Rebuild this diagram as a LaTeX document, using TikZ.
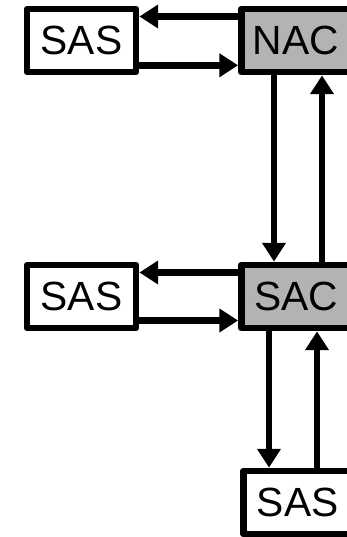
\documentclass[tikz,border=0pt]{standalone}
\usepackage{fontspec}
\setmainfont{Liberation Sans}
\usepackage{xcolor}
\usepackage{tikz}
\usetikzlibrary{
	arrows.meta,
	calc
}
\definecolor{BoxGray}{RGB}{179,179,179}

\begin{document}
\begin{tikzpicture}[x=0.025cm, y=-0.025cm,
		box/.style={draw, line width=4.8pt, line join=round, rectangle, inner sep=0pt,
			minimum width=2.725cm, minimum height=1.575cm, font=\fontsize{29}{33}\selectfont},
		link/.style={line width=4.8pt, -{Triangle[length=0.47cm, width=0.57cm]}}]
		\clip (0,0) rectangle (347,537);
		% obere Reihe
		\node[box] (sasA) at (81.5,40.5) {SAS};
		\node[box, fill=BoxGray] (nac) at (296,40.5) {NAC};
		\draw[link] ([yshift=0.6cm]nac.west) -- ([yshift=0.6cm]sasA.east);
		\draw[link] ([yshift=-0.62cm]sasA.east) -- ([yshift=-0.62cm]nac.west);
		% mittlere Reihe
		\node[box] (sasB) at (81.5,296.5) {SAS};
		\node[box, fill=BoxGray] (sac) at (296,296.5) {SAC};
		\draw[link] ([yshift=0.6cm]sac.west) -- ([yshift=0.6cm]sasB.east);
		\draw[link] ([yshift=-0.6cm]sasB.east) -- ([yshift=-0.6cm]sac.west);
		\draw[link] ([xshift=-0.55cm]nac.south) -- ([xshift=-0.55cm]nac.south |- sac.north);
		\draw[link] ([xshift=0.65cm]sac.north) -- ([xshift=0.65cm]sac.north |- nac.south);
		% untere Reihe
		\node[box] (sasC) at (297.75,502.5) {SAS};
		\draw[link] ([xshift=-0.675cm]sac.south) -- ([xshift=-0.675cm]sac.south |- sasC.north);
		\draw[link] ([xshift=0.525cm]sac.south |- sasC.north) -- ([xshift=0.525cm]sac.south);
	\end{tikzpicture}
\end{document}
